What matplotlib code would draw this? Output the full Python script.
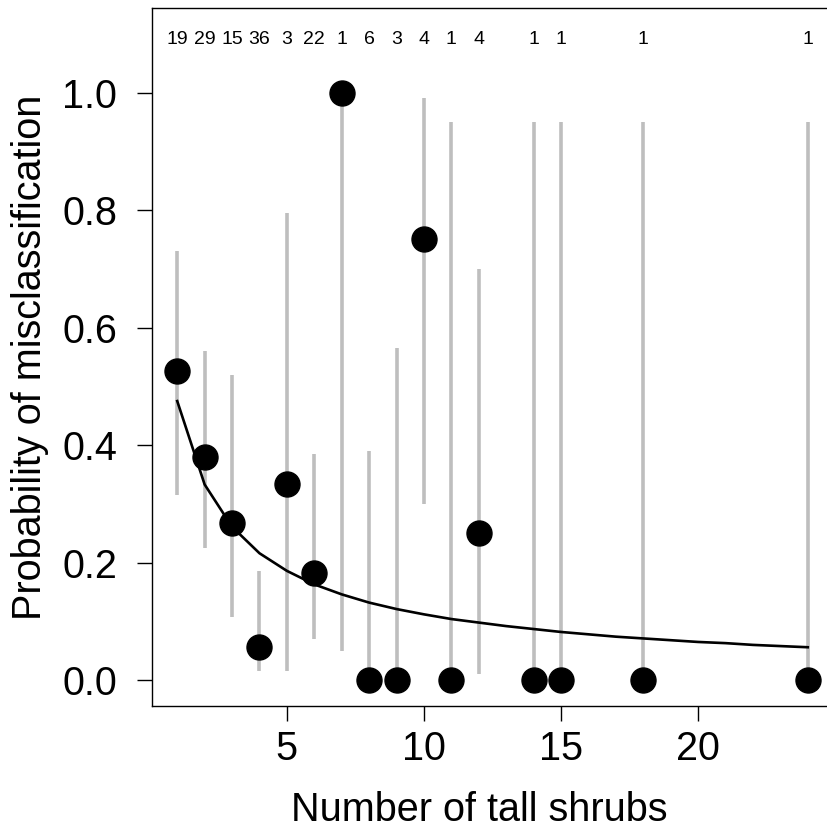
import matplotlib
matplotlib.use("Agg")
import matplotlib.pyplot as plt

plt.rcParams['font.family'] = ['Liberation Sans', 'DejaVu Sans']

# observed misclassification rate per shrub count
shrubs = [1, 2, 3, 4, 5, 6, 7, 8, 9, 10, 11, 12, 14, 15, 18, 24]
prob = [0.526, 0.379, 0.267, 0.056, 0.333, 0.182, 1.0, 0.0, 0.0, 0.75, 0.0, 0.25, 0.0, 0.0, 0.0, 0.0]
lower = [0.315, 0.225, 0.107, 0.015, 0.015, 0.07, 0.05, 0.0, 0.0, 0.30, 0.0, 0.01, 0.0, 0.0, 0.0, 0.0]
upper = [0.73, 0.56, 0.52, 0.185, 0.795, 0.385, 1.0, 0.39, 0.565, 0.99, 0.95, 0.70, 0.95, 0.95, 0.95, 0.95]
n_obs = [19, 29, 15, 36, 3, 22, 1, 6, 3, 4, 1, 4, 1, 1, 1, 1]

# fitted curve evaluated at each whole number of shrubs
fit_x = list(range(1, 25))
fit_p = [0.475, 0.333, 0.261, 0.216, 0.186, 0.163, 0.146, 0.132, 0.121, 0.112,
         0.104, 0.098, 0.092, 0.087, 0.082, 0.078, 0.074, 0.071, 0.068, 0.065,
         0.063, 0.060, 0.058, 0.056]

fig = plt.figure(figsize=(8.27, 8.39), dpi=100)
ax = fig.add_axes([152 / 827, 133 / 839, 681 / 827, 698 / 839])

ax.vlines(shrubs, lower, upper, color='#bebebe', linewidth=2.6, zorder=1)
ax.plot(fit_x, fit_p, color='black', linewidth=1.9, zorder=2)
ax.plot(shrubs, prob, 'o', color='black', markersize=18, zorder=3)

for x, n in zip(shrubs, n_obs):
    ax.text(x, 1.09, str(n), ha='center', va='center', fontsize=14)

ax.set_xlim(0.08, 24.92)
ax.set_ylim(-0.044, 1.144)
ax.set_xticks([5, 10, 15, 20])
ax.set_yticks([0.0, 0.2, 0.4, 0.6, 0.8, 1.0])
ax.set_yticklabels(['0.0', '0.2', '0.4', '0.6', '0.8', '1.0'])
ax.tick_params(axis='both', labelsize=28.5, length=11, width=1)
ax.tick_params(axis='x', pad=6)
ax.tick_params(axis='y', pad=14)
for s in ax.spines.values():
    s.set_linewidth(1)

ax.set_xlabel('Number of tall shrubs', fontsize=28.5)
ax.set_ylabel('Probability of misclassification', fontsize=28.5)
ax.xaxis.set_label_coords(0.481, -0.122)
ax.yaxis.set_label_coords(-0.179, 0.5)
ax.yaxis.label.set_va('center')

fig.savefig('out.png', dpi=100)
